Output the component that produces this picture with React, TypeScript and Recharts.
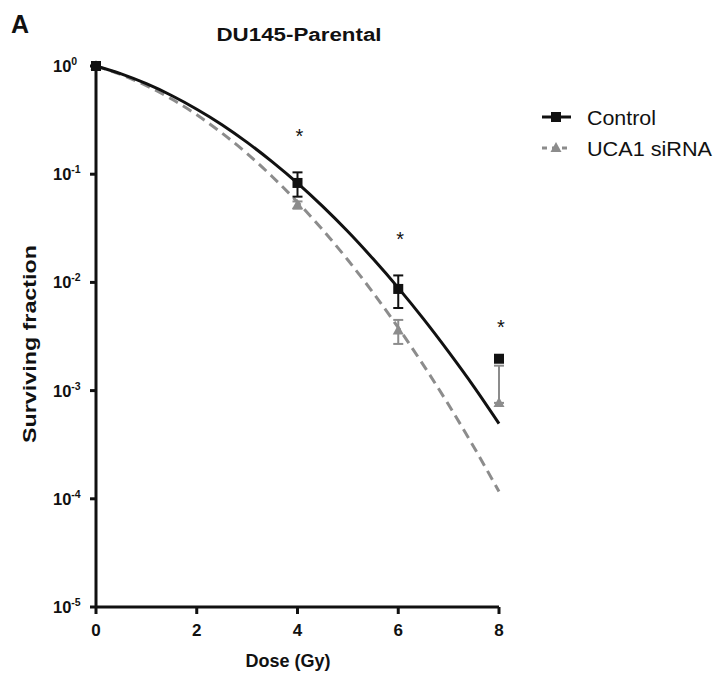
import React from "react";
import { ComposedChart, Line, Scatter, XAxis, YAxis, ErrorBar } from "recharts";

// fitted survival curves
const fitDose = [0, 0.5, 1, 1.5, 2, 2.5, 3, 3.5, 4, 4.5, 5, 5.5, 6, 6.5, 7, 7.5, 8];
const controlFit = [1, 0.845, 0.686, 0.534, 0.399, 0.287, 0.197, 0.13, 0.0827, 0.0504, 0.0295, 0.0165, 0.0089, 0.0046, 0.00228, 0.00109, 0.000496];
const sirnaFit = [1, 0.832, 0.658, 0.495, 0.354, 0.24, 0.155, 0.0948, 0.0552, 0.0306, 0.0161, 0.00804, 0.00382, 0.00172, 0.000739, 0.000301, 0.000117];

// measured points (mean, SEM)
const doses = [0, 4, 6, 8];
const controlMean = [1, 0.083, 0.0087, 0.00197];
const controlSem = [0, 0.021, 0.0029, 0];
const sirnaMean = [1, 0.052, 0.0036, 0.00077];
const sirnaSemLow = [0, 0.004, 0.0009, 0];
const sirnaSemHigh = [0, 0.004, 0.0009, 0.00093];

// significance marks
const starDose = [4, 6, 8];
const starLevel = [0.246, 0.0275, 0.00424];

const xTicks = [0, 2, 4, 6, 8];
const yTicks = [1, 0.1, 0.01, 0.001, 0.0001, 0.00001];
const yExponents = ["0", "-1", "-2", "-3", "-4", "-5"];

const FONT = '"Liberation Sans", Arial, Helvetica, sans-serif';
const BLACK = "#111";
const GRAY = "#8c8c8c";

const controlLine = fitDose.map((x, i) => ({ x, y: controlFit[i] }));
const sirnaLine = fitDose.map((x, i) => ({ x, y: sirnaFit[i] }));
const controlPts = doses.map((x, i) => ({ x, y: controlMean[i], err: [controlSem[i], controlSem[i]] }));
const sirnaPts = doses.map((x, i) => ({ x, y: sirnaMean[i], err: [sirnaSemLow[i], sirnaSemHigh[i]] }));
const stars = starDose.map((x, i) => ({ x, y: starLevel[i] }));

const YTick = ({ y, payload }: any) => {
  const i = yTicks.indexOf(payload.value);
  return (
    <text x={53} y={y + 6} fontFamily={FONT} fontWeight="bold" fontSize={16.5} fill={BLACK}>
      10
      <tspan dy={-7} fontSize={10.5}>{yExponents[i]}</tspan>
    </text>
  );
};

const Square = ({ cx, cy }: any) => <rect x={cx - 5} y={cy - 5} width={10} height={10} fill={BLACK} />;
const Triangle = ({ cx, cy }: any) => (
  <polygon points={`${cx},${cy - 6} ${cx + 5.5},${cy + 4} ${cx - 5.5},${cy + 4}`} fill={GRAY} />
);
const Star = ({ cx, cy }: any) => (
  <text x={cx + 2} y={cy + 11} textAnchor="middle" fontFamily={FONT} fontSize={20} fill={BLACK}>
    *
  </text>
);

export default function App() {
  return (
    <div style={{ position: "absolute", left: 0, top: 0, width: 714, height: 675, background: "#fff" }}>
      <ComposedChart width={714} height={675} margin={{ top: 66, right: 215, bottom: 28, left: 36 }}>
        <XAxis
          dataKey="x"
          type="number"
          domain={[0, 8]}
          ticks={xTicks}
          height={40}
          axisLine={{ stroke: BLACK, strokeWidth: 3 }}
          tickLine={{ stroke: BLACK, strokeWidth: 3 }}
          tickSize={7}
          tickMargin={10}
          tick={{ fontFamily: FONT, fontWeight: "bold", fontSize: 17, fill: BLACK }}
        />
        <YAxis
          dataKey="y"
          type="number"
          scale="log"
          domain={[0.00001, 1]}
          ticks={yTicks}
          width={60}
          axisLine={{ stroke: BLACK, strokeWidth: 3 }}
          tickLine={{ stroke: BLACK, strokeWidth: 3 }}
          tickSize={6}
          tick={<YTick />}
        />
        <Line data={sirnaLine} dataKey="y" type="monotone" stroke={GRAY} strokeWidth={3} strokeDasharray="10 6" dot={false} isAnimationActive={false} />
        <Line data={controlLine} dataKey="y" type="monotone" stroke={BLACK} strokeWidth={3} dot={false} isAnimationActive={false} />
        <Scatter data={sirnaPts} dataKey="y" shape={<Triangle />} isAnimationActive={false}>
          <ErrorBar dataKey="err" direction="y" width={5} stroke={GRAY} strokeWidth={2} isAnimationActive={false} />
        </Scatter>
        <Scatter data={controlPts} dataKey="y" shape={<Square />} isAnimationActive={false}>
          <ErrorBar dataKey="err" direction="y" width={5} stroke={BLACK} strokeWidth={2} isAnimationActive={false} />
        </Scatter>
        <Scatter data={stars} dataKey="y" shape={<Star />} isAnimationActive={false} />
      </ComposedChart>

      <svg width={714} height={675} style={{ position: "absolute", left: 0, top: 0, pointerEvents: "none" }}>
        <g fontFamily={FONT} fill={BLACK}>
          <text x={11} y={33} fontSize={25} fontWeight="bold">A</text>
          <text x={299} y={41} fontSize={18} fontWeight="bold" textAnchor="middle" textLength={165} lengthAdjust="spacingAndGlyphs">
            DU145-Parental
          </text>
          <text transform="translate(36,344) rotate(-90)" fontSize={18.5} fontWeight="bold" textAnchor="middle" textLength={198} lengthAdjust="spacingAndGlyphs">
            Surviving fraction
          </text>
          <text x={288} y={667} fontSize={18} fontWeight="bold" textAnchor="middle">Dose (Gy)</text>

          {/* legend */}
          <line x1={542} x2={571} y1={117} y2={117} stroke={BLACK} strokeWidth={3} />
          <rect x={551} y={112} width={10} height={10} fill={BLACK} />
          <text x={587} y={125} fontSize={20} textLength={69} lengthAdjust="spacingAndGlyphs">Control</text>
          <line x1={542} x2={571} y1={148} y2={148} stroke={GRAY} strokeWidth={3} strokeDasharray="5 5" />
          <polygon points="556,142 561.5,152 550.5,152" fill={GRAY} />
          <text x={587} y={156} fontSize={20} textLength={125} lengthAdjust="spacingAndGlyphs">UCA1 siRNA</text>
        </g>
      </svg>
    </div>
  );
}
